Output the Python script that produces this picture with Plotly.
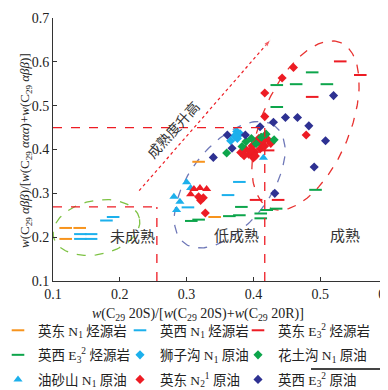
import numpy as np
import plotly.graph_objects as go

# ---------------- data ----------------
yd_n1_src_x = [0.119, 0.140, 0.119, 0.318, 0.342]
yd_n1_src_y = [0.221, 0.221, 0.196, 0.372, 0.246]

yx_n1_src_x = [0.141, 0.157, 0.141, 0.157, 0.180, 0.190, 0.302, 0.362, 0.379]
yx_n1_src_y = [0.207, 0.207, 0.196, 0.196, 0.238, 0.246, 0.268, 0.296, 0.326]

yd_e3_src_x = [0.530, 0.560, 0.488, 0.422, 0.404, 0.437]
yd_e3_src_y = [0.601, 0.570, 0.520, 0.398, 0.285, 0.285]

yx_e3_src_x = [0.488, 0.464, 0.510, 0.435, 0.435, 0.493, 0.434, 0.420, 0.411, 0.411,
               0.379, 0.364, 0.318, 0.307, 0.382]
yx_e3_src_y = [0.576, 0.549, 0.549, 0.547, 0.497, 0.308, 0.265, 0.262, 0.254, 0.243,
               0.250, 0.248, 0.240, 0.237, 0.269]

szg_oil_x = [0.375, 0.380, 0.366, 0.376, 0.372]
szg_oil_y = [0.441, 0.436, 0.420, 0.425, 0.431]

htg_oil_x = [0.360, 0.383, 0.389, 0.397, 0.404, 0.419, 0.431, 0.412]
htg_oil_y = [0.392, 0.407, 0.418, 0.425, 0.413, 0.435, 0.422, 0.428]

yss_oil_x = [0.300, 0.306, 0.281, 0.290, 0.285, 0.415]
yss_oil_y = [0.325, 0.312, 0.292, 0.281, 0.262, 0.381]

yd_n2_oil_x = [0.460, 0.443, 0.417, 0.417, 0.479, 0.318, 0.325, 0.321, 0.328,
               0.381, 0.388, 0.393, 0.398, 0.400, 0.402, 0.403, 0.408, 0.410, 0.412,
               0.411, 0.417, 0.422, 0.426, 0.415, 0.405, 0.395, 0.386]
yd_n2_oil_y = [0.587, 0.563, 0.529, 0.475, 0.433, 0.292, 0.290, 0.284, 0.255,
               0.393, 0.401, 0.389, 0.408, 0.381, 0.394, 0.385, 0.425, 0.401, 0.412,
               0.427, 0.408, 0.422, 0.414, 0.420, 0.418, 0.398, 0.386]

red_tri_x = [0.311, 0.320, 0.330, 0.306]
red_tri_y = [0.310, 0.312, 0.310, 0.298]

yx_e3_oil_x = [0.340, 0.361, 0.368, 0.388, 0.410, 0.430, 0.448, 0.466, 0.483, 0.508,
               0.491, 0.520, 0.432]
yx_e3_oil_y = [0.382, 0.433, 0.403, 0.433, 0.452, 0.462, 0.473, 0.473, 0.454, 0.420,
               0.360, 0.523, 0.300]

x_ticks = [0.1, 0.2, 0.3, 0.4, 0.5, 0.6]
y_ticks = [0.1, 0.2, 0.3, 0.4, 0.5, 0.6, 0.7]

# guide ellipses: centre (data), semi-axes (px), angle (deg)
ell_green = dict(c=(0.165, 0.222), a=44, b=27, ang=12, color="#7dc243")
ell_blue = dict(c=(0.3645, 0.3197), a=74, b=40, ang=52, color="#6f78b8")
ell_red = dict(c=(0.478, 0.4547), a=90, b=44, ang=67, color="#e8312f")

# ---------------- layout constants ----------------
W, H = 388, 390
ML, MR, MT, MB = 45, 9, 10, 117
PW, PH = W - ML - MR, H - MT - MB
XR, YR = [0.1, 0.6], [0.1, 0.7]
SX = PW / (XR[1] - XR[0])
SY = PH / (YR[1] - YR[0])

def px2paper(px, py):
    return (px - ML) / PW, (H - MB - py) / PH

def ellipse(e):
    t = np.linspace(0, 2 * np.pi, 200)
    th = np.deg2rad(e["ang"])
    dx = e["a"] * np.cos(t) * np.cos(th) - e["b"] * np.sin(t) * np.sin(th)
    dy = e["a"] * np.cos(t) * np.sin(th) + e["b"] * np.sin(t) * np.cos(th)
    return e["c"][0] + dx / SX, e["c"][1] + dy / SY

SERIF = "Liberation Serif, Noto Sans CJK SC, serif"
C_OR, C_LB, C_RD, C_GR, C_DB = "#f7941d", "#1cb0ec", "#ed1c24", "#0da54b", "#2e3192"

fig = go.Figure()

for e in (ell_green, ell_blue, ell_red):
    ex, ey = ellipse(e)
    fig.add_trace(go.Scatter(x=ex, y=ey, mode="lines", showlegend=False, hoverinfo="skip",
                             line=dict(color=e["color"], width=1.3, dash="dash")))

# maturity arrow
fig.add_trace(go.Scatter(x=[0.229, 0.426], y=[0.306, 0.651], mode="lines+markers",
                         showlegend=False, hoverinfo="skip",
                         line=dict(color=C_RD, width=1.2, dash="dot"),
                         marker=dict(symbol=["circle", "arrow"], size=[0, 8],
                                     angleref="previous", color=C_RD)))

def dash_trace(x, y, name, color, leg):
    return go.Scatter(x=x, y=y, mode="markers", name=name, legend=leg, legendgroup=name,
                      marker=dict(symbol="line-ew", size=9, color=color,
                                  line=dict(color=color, width=2)))

def pt_trace(x, y, name, color, leg, sym="diamond", size=7, show=True):
    return go.Scatter(x=x, y=y, mode="markers", name=name, showlegend=show, legend=leg,
                      legendgroup=name,
                      marker=dict(symbol=sym, size=size, color=color, line=dict(width=0)))

# column 1
fig.add_trace(dash_trace(yd_n1_src_x, yd_n1_src_y, "英东 N<sub>1</sub> 烃源岩", C_OR, "legend"))
fig.add_trace(dash_trace(yx_e3_src_x, yx_e3_src_y, "英西 E<sub>3</sub><sup>2</sup> 烃源岩", C_GR, "legend"))
fig.add_trace(pt_trace(yss_oil_x, yss_oil_y, "油砂山 N<sub>1</sub> 原油", C_LB, "legend", "triangle-up", 8))
# column 2
fig.add_trace(dash_trace(yx_n1_src_x, yx_n1_src_y, "英西 N<sub>1</sub> 烃源岩", C_LB, "legend2"))
fig.add_trace(pt_trace(szg_oil_x, szg_oil_y, "狮子沟 N<sub>1</sub> 原油", C_LB, "legend2"))
fig.add_trace(pt_trace(yd_n2_oil_x, yd_n2_oil_y, "英东 N<sub>2</sub><sup>1</sup> 原油", C_RD, "legend2"))
# column 3
fig.add_trace(dash_trace(yd_e3_src_x, yd_e3_src_y, "英东 E<sub>3</sub><sup>2</sup> 烃源岩", C_RD, "legend3"))
fig.add_trace(pt_trace(htg_oil_x, htg_oil_y, "花土沟 N<sub>1</sub> 原油", C_GR, "legend3"))
fig.add_trace(pt_trace(yx_e3_oil_x, yx_e3_oil_y, "英西 E<sub>3</sub><sup>2</sup> 原油", C_DB, "legend3"))
fig.add_trace(pt_trace(red_tri_x, red_tri_y, "英东", C_RD, "legend", "triangle-up", 8, show=False))

# dashed boundary lines
dl = dict(color=C_RD, width=1.3, dash="dash")
shapes = [
    dict(type="line", xref="x", yref="y", x0=0.1, x1=0.415, y0=0.45, y1=0.45, line=dl),
    dict(type="line", xref="x", yref="y", x0=0.1, x1=0.2555, y0=0.269, y1=0.269, line=dl),
    dict(type="line", xref="x", yref="y", x0=0.2555, x1=0.2555, y0=0.1, y1=0.269, line=dl),
    dict(type="line", xref="x", yref="y", x0=0.417, x1=0.417, y0=0.1, y1=0.45, line=dl),
]
# stray rule in the legend area of the source figure
shapes.append(dict(type="line", xref="paper", yref="paper",
                   x0=px2paper(303, 361)[0], x1=px2paper(388, 361)[0],
                   y0=px2paper(303, 361)[1], y1=px2paper(303, 361)[1],
                   line=dict(color="#444", width=2)))

ann = []
for txt, x, y in [("未成熟", 0.219, 0.200), ("低成熟", 0.374, 0.202), ("成熟", 0.537, 0.202)]:
    ann.append(dict(text=txt, x=x, y=y, xref="x", yref="y", showarrow=False,
                    font=dict(family=SERIF, size=15, color="#333")))
ann.append(dict(text="成熟度升高", x=0.280, y=0.4455, xref="x", yref="y", showarrow=False,
                textangle=-48, font=dict(family=SERIF, size=14, color="#333")))
xtx, xty = px2paper(190, 306)
ann.append(dict(text="<i>w</i>(C<sub>29</sub> 20S)/[<i>w</i>(C<sub>29</sub> 20S)+<i>w</i>(C<sub>29</sub> 20R)]",
                x=xtx, y=xty, xref="paper", yref="paper", showarrow=False,
                xanchor="center", yanchor="middle",
                font=dict(family=SERIF, size=14, color="#222")))
ytx, yty = px2paper(17, 143)
ann.append(dict(text="<i>w</i>(C<sub>29</sub> <i>αββ</i>)/[<i>w</i>(C<sub>29</sub> <i>ααα</i>)+<i>w</i>(C<sub>29</sub> <i>αββ</i>)]",
                x=ytx, y=yty, xref="paper", yref="paper", showarrow=False, textangle=-90,
                xanchor="center", yanchor="middle",
                font=dict(family=SERIF, size=13, color="#222")))

axis_common = dict(showgrid=False, zeroline=False, showline=True, linecolor="#333", linewidth=1,
                   ticks="inside", ticklen=4, tickcolor="#333", mirror=False, automargin=False,
                   tickfont=dict(family=SERIF, size=14, color="#222"))

LEG_TOP = 307
def leg(x_px):
    return dict(orientation="v", xref="container", yref="container",
                x=max(x_px, 0) / W, y=1 - LEG_TOP / H, xanchor="left", yanchor="top",
                indentation=-10,
                itemsizing="trace", font=dict(family=SERIF, size=13.5, color="#222"),
                bgcolor="rgba(0,0,0,0)", tracegroupgap=4)

fig.update_layout(
    width=W, height=H, margin=dict(l=ML, r=MR, t=MT, b=MB, autoexpand=False),
    paper_bgcolor="white", plot_bgcolor="white",
    xaxis=dict(range=XR, tickvals=x_ticks, ticktext=[f"{v:.1f}" for v in x_ticks], **axis_common),
    yaxis=dict(range=YR, tickvals=y_ticks, ticktext=[f"{v:.1f}" for v in y_ticks], **axis_common),
    shapes=shapes, annotations=ann,
    legend=leg(0), legend2=leg(122), legend3=leg(240),
    showlegend=True,
)
fig.write_html("out.html")
